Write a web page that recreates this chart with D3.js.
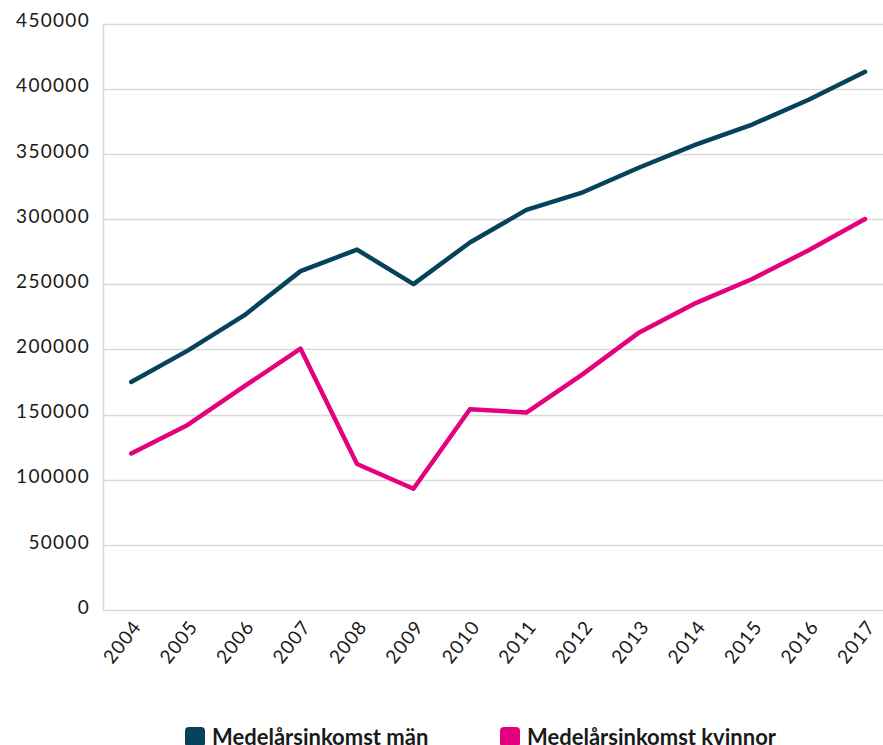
<!DOCTYPE html>
<html>
<head>
<meta charset="utf-8">
<script src="https://cdn.jsdelivr.net/npm/d3@7"></script>
<style>
  body { margin: 0; background: #fff; }
  svg text { font-family: Lato, "Open Sans", sans-serif; fill: #1a1a1a; }
</style>
</head>
<body>
<div id="chart"></div>
<script>
  var years = ['2004', '2005', '2006', '2007', '2008', '2009', '2010', '2011', '2012', '2013', '2014', '2015', '2016', '2017'];
  var man = [175000, 199000, 226000, 260000, 276500, 250000, 282000, 307000, 320500, 339500, 357000, 372500, 391500, 413000];
  var kvinnor = [120000, 142000, 171500, 200500, 112000, 93000, 154000, 151500, 181000, 213000, 235500, 254000, 276000, 300000];
  var yTicks = [0, 50000, 100000, 150000, 200000, 250000, 300000, 350000, 400000, 450000];
  var seriesNames = ['Medelårsinkomst män', 'Medelårsinkomst kvinnor'];
  var seriesColors = ['#06435a', '#e5007d'];

  var width = 883, height = 745;
  var plotLeft = 103, plotRight = 883, plotTop = 23.5, plotBottom = 610;

  var svg = d3.select('#chart').append('svg')
    .attr('width', width)
    .attr('height', height);

  var x = d3.scaleBand()
    .domain(years)
    .range([plotLeft, plotLeft + 14 * 56.45]);

  var y = d3.scaleLinear()
    .domain([0, 450000])
    .range([plotBottom, plotTop]);

  // grid
  svg.append('g')
    .selectAll('line')
    .data(yTicks)
    .enter().append('line')
    .attr('x1', plotLeft)
    .attr('x2', plotRight)
    .attr('y1', function(d) { return Math.round(y(d)) + 0.5; })
    .attr('y2', function(d) { return Math.round(y(d)) + 0.5; })
    .attr('stroke', '#d9d9d9')
    .attr('stroke-width', 1.5);

  svg.append('line')
    .attr('x1', plotLeft + 0.5)
    .attr('x2', plotLeft + 0.5)
    .attr('y1', y(450000))
    .attr('y2', y(0))
    .attr('stroke', '#d9d9d9')
    .attr('stroke-width', 1.5);

  // y labels
  svg.append('g')
    .selectAll('text')
    .data(yTicks)
    .enter().append('text')
    .attr('x', plotLeft - 13)
    .attr('y', function(d) { return y(d); })
    .attr('dy', '0.2em')
    .attr('text-anchor', 'end')
    .style('font-size', '19px')
    .style('letter-spacing', '1.3px')
    .text(function(d) { return d; });

  // x labels
  svg.append('g')
    .selectAll('text')
    .data(years)
    .enter().append('text')
    .attr('transform', function(d) {
      return 'translate(' + (x(d) + x.bandwidth() / 2 + 11) + ',' + 627 + ') rotate(-52)';
    })
    .attr('text-anchor', 'end')
    .style('font-size', '19px')
    .style('letter-spacing', '1px')
    .text(function(d) { return d; });

  // lines
  var line = d3.line()
    .x(function(d, i) { return x(years[i]) + x.bandwidth() / 2; })
    .y(function(d) { return y(d); });

  [man, kvinnor].forEach(function(values, i) {
    svg.append('path')
      .datum(values)
      .attr('d', line)
      .attr('fill', 'none')
      .attr('stroke', seriesColors[i])
      .attr('stroke-width', 4.5)
      .attr('stroke-linejoin', 'round')
      .attr('stroke-linecap', 'round');
  });

  // legend
  var legendX = [185, 500];
  var legend = svg.append('g')
    .selectAll('g')
    .data(seriesNames)
    .enter().append('g')
    .attr('transform', function(d, i) { return 'translate(' + legendX[i] + ',727)'; });

  legend.append('rect')
    .attr('width', 20)
    .attr('height', 20)
    .attr('rx', 4)
    .attr('fill', function(d, i) { return seriesColors[i]; });

  legend.append('text')
    .attr('x', 27)
    .attr('y', 18)
    .style('font-size', '22px')
    .style('font-weight', 'bold')
    .text(function(d) { return d; });
</script>
</body>
</html>
